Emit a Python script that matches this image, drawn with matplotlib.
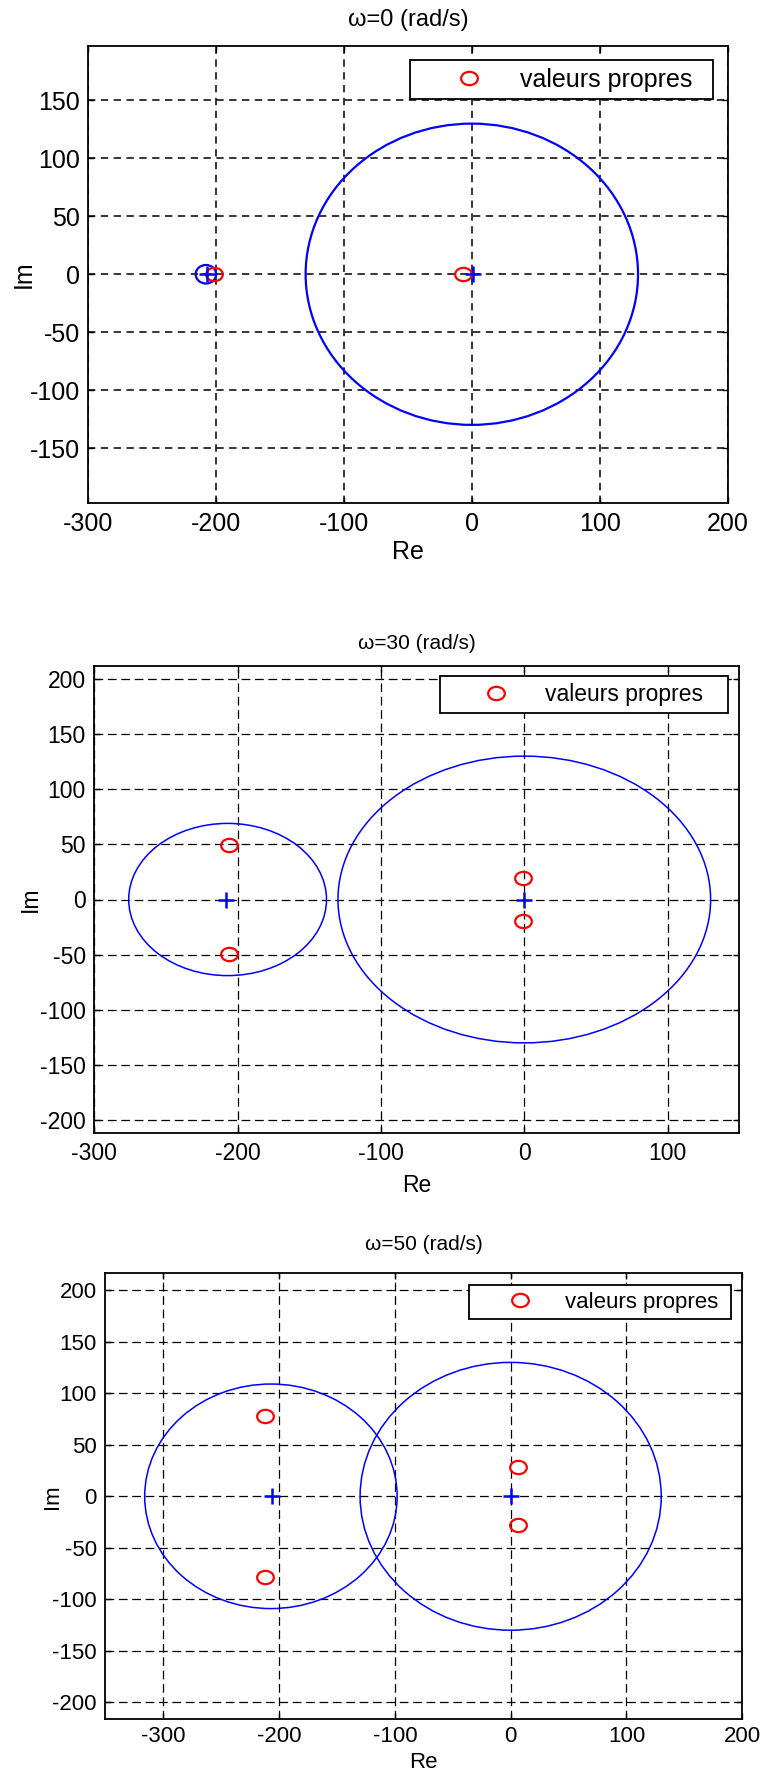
import matplotlib
matplotlib.use("Agg")
import matplotlib.pyplot as plt
from matplotlib.patches import Circle
from matplotlib.path import Path
from matplotlib.transforms import Affine2D

plt.rcParams["font.family"] = ["Liberation Sans", "DejaVu Sans"]
plt.rcParams["axes.unicode_minus"] = False

FIG_W, FIG_H = 763, 1778

# ---- data ----
titles = ["ω=0 (rad/s)", "ω=30 (rad/s)", "ω=50 (rad/s)"]

# discs: centre on real axis + radius
disc_re_0 = [0, -208]
disc_r_0 = [130, 8]
disc_re_30 = [-207, 0]
disc_r_30 = [69, 130]
disc_re_50 = [-207, 0]
disc_r_50 = [109, 130]

# eigenvalues (red o)
eig_re_0 = [-202, -7]
eig_im_0 = [0, 0]
eig_re_30 = [-206, -206, -1, -1]
eig_im_30 = [49, -49, 19.5, -19.5]
eig_re_50 = [-212, -212, 6, 6]
eig_im_50 = [78, -78, 28, -28]

# disc centres (blue +)
cen_re_0 = [-207, 1]
cen_im_0 = [0, 0]
cen_re_30 = [-208, 0]
cen_im_30 = [0, 0]
cen_re_50 = [-206, 0]
cen_im_50 = [0, 0]

xlims = [(-300, 200), (-300, 150), (-350, 200)]
ylims = [(-197, 197), (-212, 212), (-216.5, 216.5)]
xticks = [[-300, -200, -100, 0, 100, 200], [-300, -200, -100, 0, 100], [-300, -200, -100, 0, 100, 200]]
yticks = [[-150, -100, -50, 0, 50, 100, 150], list(range(-200, 201, 50)), list(range(-200, 201, 50))]

# ---- layout (pixels) ----
axes_px = [(88.3, 727.5, 46, 502.5), (94.3, 739.3, 665.7, 1133.3), (105.3, 742.3, 1273.3, 1719.3)]
legend_px = [(410, 713, 60, 103), (440, 727.7, 676, 711.7), (469.4, 730.7, 1285, 1322.3)]
title_y_px = [20, 643.7, 1244.5]
xlabel_y_px = [552, 1186, 1763]
ylabel_x_px = [24, 30, 52.5]
font_sizes = [18, 16.5, 16]
title_sizes = [17, 15, 15]
xpads = [6.8, 6.5, 4.7]
dashes = [(4.8, 3.6), (7, 3.7), (7, 3.7)]
grid_lw = [1.1, 0.9, 0.9]
disc_lw = [1.6, 1.1, 1.1]
leg_handle = [(4.12, 0.0), (4.28, 0.0), (3.95, 0.05)]

# slightly wide "o" like the source rendering
ell_marker = Path.unit_circle().transformed(Affine2D().scale(1.25, 1.0))

panels = [
    (disc_re_0, disc_r_0, eig_re_0, eig_im_0, cen_re_0, cen_im_0),
    (disc_re_30, disc_r_30, eig_re_30, eig_im_30, cen_re_30, cen_im_30),
    (disc_re_50, disc_r_50, eig_re_50, eig_im_50, cen_re_50, cen_im_50),
]

fig = plt.figure(figsize=(FIG_W / 100, FIG_H / 100), dpi=100)

for i, (d_re, d_r, e_re, e_im, c_re, c_im) in enumerate(panels):
    left, right, top, bottom = axes_px[i]
    w, h = right - left, bottom - top
    ax = fig.add_axes([left / FIG_W, 1 - bottom / FIG_H, w / FIG_W, h / FIG_H])
    fs = font_sizes[i]

    for xc, r in zip(d_re, d_r):
        ax.add_patch(Circle((xc, 0), r, fill=False, edgecolor="#0000ff", linewidth=disc_lw[i]))

    ax.plot(e_re, e_im, linestyle="none", marker=ell_marker, markersize=12,
            markerfacecolor="none", markeredgecolor="#ff0000", markeredgewidth=1.6,
            label="valeurs propres")
    ax.plot(c_re, c_im, linestyle="none", marker="+", markersize=12,
            markeredgecolor="#0000ff", markeredgewidth=1.8)

    ax.set_xlim(*xlims[i])
    ax.set_ylim(*ylims[i])
    ax.set_xticks(xticks[i])
    ax.set_yticks(yticks[i])
    ax.set_axisbelow(True)
    ax.grid(True, color="black", linestyle=(0, dashes[i]), linewidth=grid_lw[i])
    ax.tick_params(direction="in", length=4, width=1.0, top=True, right=True,
                   labelsize=fs, colors="black")
    ax.tick_params(axis="x", pad=xpads[i])
    ax.tick_params(axis="y", pad=6)
    for spine in ax.spines.values():
        spine.set_linewidth(1.3)
        spine.set_color("black")

    ax.set_title(titles[i], fontsize=title_sizes[i], y=(bottom - title_y_px[i]) / h,
                 pad=0, va="center")
    ax.set_xlabel("Re", fontsize=fs)
    ax.set_ylabel("Im", fontsize=fs)
    ax.xaxis.label.set_va("center")
    ax.yaxis.label.set_va("center")
    ax.xaxis.set_label_coords(0.5, (bottom - xlabel_y_px[i]) / h)
    ax.yaxis.set_label_coords((ylabel_x_px[i] - left) / w, 0.5)

    l0, l1, lt, lb = legend_px[i]
    hl, tp = leg_handle[i]
    leg = ax.legend(loc="upper left",
                    bbox_to_anchor=((l0 - left) / w, (bottom - lb) / h,
                                    (l1 - l0) / w, (lb - lt) / h),
                    mode="expand", borderaxespad=0, fontsize=fs,
                    handlelength=hl, handletextpad=tp, borderpad=0.3,
                    fancybox=False, framealpha=1, edgecolor="black", numpoints=1)
    leg.get_frame().set_linewidth(1.3)

fig.savefig("out.png", dpi=100)
